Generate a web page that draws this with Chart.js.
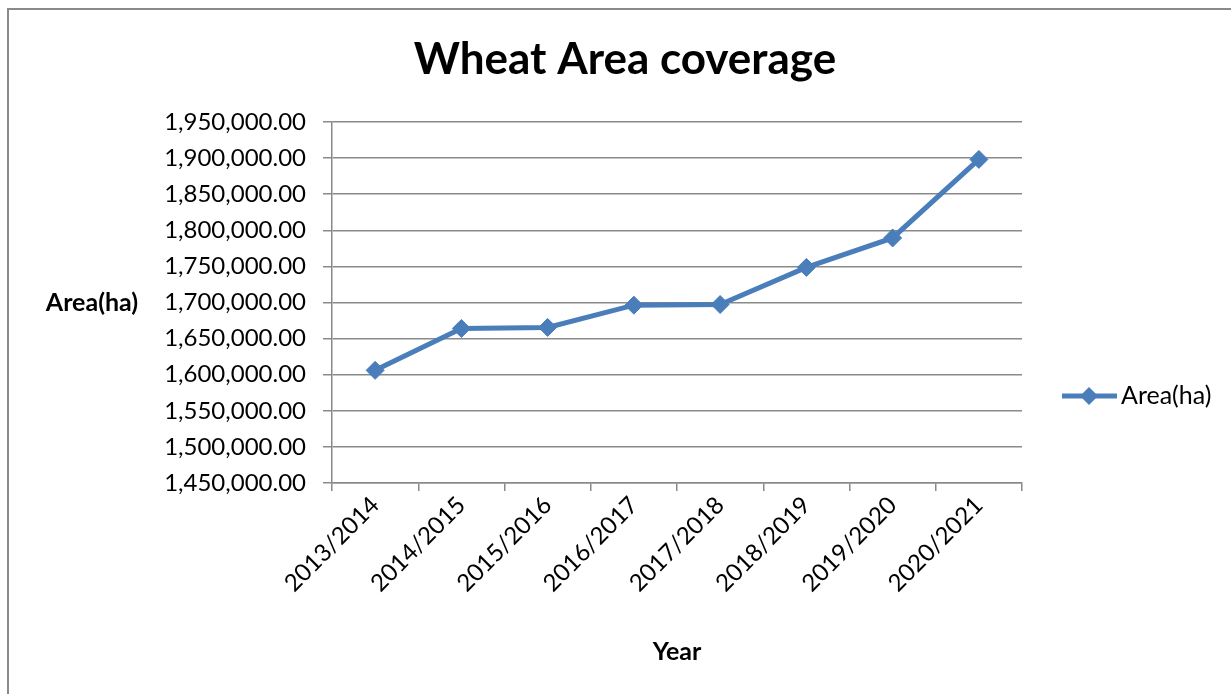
<!DOCTYPE html>
<html>
<head>
<meta charset="utf-8">
<script src="https://cdn.jsdelivr.net/npm/chart.js@4"></script>
<style>
html,body{margin:0;padding:0;background:#fff;}
canvas{display:block;}
</style>
</head>
<body>
<canvas id="c" width="1231" height="694"></canvas>
<script>
const categories = ["2013/2014","2014/2015","2015/2016","2016/2017","2017/2018","2018/2019","2019/2020","2020/2021"];
const areaValues = [1606000, 1664000, 1665500, 1696300, 1697200, 1748600, 1789400, 1898200];
const seriesName = "Area(ha)";
const chartTitle = "Wheat Area coverage";
const yAxisTitle = "Area(ha)";
const xAxisTitle = "Year";
const yMin = 1450000, yMax = 1950000, yStep = 50000;

const FONT = "Lato, 'Open Sans', sans-serif";
const LINE = '#4A7EBB';
const GRID = '#8A8A8A';

const fmt = v => Number(v).toLocaleString('en-US',{minimumFractionDigits:2, maximumFractionDigits:2});

const decor = {
  id:'decor',
  beforeDraw(chart){
    const ctx = chart.ctx;
    ctx.save();
    ctx.fillStyle = '#fff';
    ctx.fillRect(0,0,chart.width,chart.height);
    ctx.strokeStyle = GRID;
    ctx.lineWidth = 2;
    ctx.beginPath();
    ctx.moveTo(8, chart.height+2);
    ctx.lineTo(8, 9);
    ctx.lineTo(chart.width+2, 9);
    ctx.stroke();
    ctx.restore();
  },
  afterDraw(chart){
    const ctx = chart.ctx, ca = chart.chartArea;
    ctx.save();
    ctx.fillStyle = '#000';
    ctx.textBaseline = 'middle';
    // title
    ctx.textAlign = 'center';
    ctx.font = "bold 44px " + FONT;
    ctx.fillText(chartTitle, 625, 60);
    // y title
    ctx.font = "bold 25px " + FONT;
    ctx.fillText(yAxisTitle, 92, (ca.top+ca.bottom)/2);
    // x title
    ctx.fillText(xAxisTitle, (ca.left+ca.right)/2, 652);
    // legend
    const ly = 396;
    ctx.strokeStyle = LINE;
    ctx.lineWidth = 5;
    ctx.beginPath();
    ctx.moveTo(1062, ly); ctx.lineTo(1117, ly);
    ctx.stroke();
    ctx.fillStyle = LINE;
    ctx.beginPath();
    ctx.moveTo(1089, ly-9); ctx.lineTo(1098, ly); ctx.lineTo(1089, ly+9); ctx.lineTo(1080, ly);
    ctx.closePath(); ctx.fill();
    ctx.fillStyle = '#000';
    ctx.textAlign = 'left';
    ctx.font = "25px " + FONT;
    ctx.fillText(seriesName, 1121, ly);
    ctx.restore();
  }
};

new Chart(document.getElementById('c'), {
  type:'line',
  data:{
    labels: categories,
    datasets:[{
      label: seriesName,
      data: areaValues,
      borderColor: LINE,
      backgroundColor: LINE,
      borderWidth: 5,
      pointStyle: 'rectRot',
      pointRadius: 9,
      pointBorderWidth: 1,
      pointBackgroundColor: LINE,
      pointBorderColor: LINE,
      tension: 0
    }]
  },
  options:{
    responsive:false,
    animation:false,
    devicePixelRatio:1,
    layout:{padding:{top:122,right:209,bottom:0,left:0}},
    plugins:{legend:{display:false},title:{display:false},tooltip:{enabled:false}},
    scales:{
      x:{
        offset:true,
        grid:{offset:true, drawOnChartArea:false, drawTicks:true, tickLength:8, color:GRID, lineWidth:1.5},
        border:{display:true, color:GRID, width:1.5},
        ticks:{color:'#000', font:{family:FONT, size:24}, minRotation:45, maxRotation:45, padding:0, autoSkip:false},
        afterFit(s){ s.height = 211; }
      },
      y:{
        min:yMin, max:yMax,
        grid:{color:GRID, lineWidth:1.5, drawTicks:true, tickLength:9},
        border:{display:true, color:GRID, width:1.5},
        ticks:{stepSize:yStep, color:'#000', font:{family:FONT, size:24}, padding:17, callback:v=>fmt(v)},
        afterFit(s){ s.width = 332; }
      }
    }
  },
  plugins:[decor]
});
</script>
</body>
</html>
